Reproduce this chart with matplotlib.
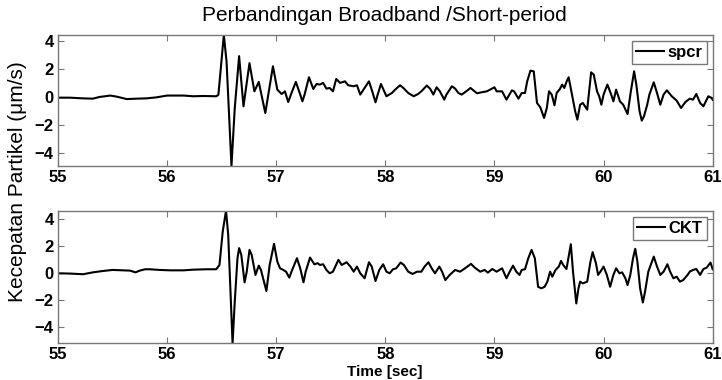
import numpy as np
import matplotlib.pyplot as plt

plt.rcParams['font.family'] = ['Liberation Sans', 'DejaVu Sans']

# rekaman sensor short-period (spcr)
t_spcr = np.array([
    55.00, 55.11, 55.23, 55.32, 55.38, 55.48, 55.54, 55.63, 55.72, 55.81,
    55.90, 56.00, 56.15, 56.24, 56.33, 56.45, 56.47, 56.52, 56.545, 56.59,
    56.62, 56.66, 56.70, 56.755, 56.80, 56.84, 56.90, 56.97, 57.01, 57.05,
    57.08, 57.11, 57.14, 57.18, 57.22, 57.24, 57.26, 57.30, 57.34, 57.37,
    57.40, 57.43, 57.46, 57.49, 57.52, 57.55, 57.585, 57.63, 57.66, 57.71,
    57.74, 57.77, 57.81, 57.85, 57.88, 57.91, 57.93, 57.96, 57.99, 58.01,
    58.06, 58.09, 58.135, 58.165, 58.21, 58.26, 58.30, 58.33, 58.38, 58.41,
    58.44, 58.47, 58.50, 58.54, 58.56, 58.61, 58.64, 58.67, 58.70, 58.75,
    58.78, 58.81, 58.84, 58.88, 58.93, 58.96, 59.00, 59.02, 59.07, 59.11,
    59.16, 59.18, 59.22, 59.25, 59.28, 59.30, 59.33, 59.36, 59.39, 59.42,
    59.455, 59.48, 59.50, 59.525, 59.55, 59.57, 59.60, 59.62, 59.64, 59.66,
    59.68, 59.71, 59.74, 59.76, 59.785, 59.81, 59.85, 59.886, 59.91, 59.94,
    59.96, 59.98, 60.00, 60.035, 60.07, 60.09, 60.115, 60.15, 60.18, 60.22,
    60.25, 60.28, 60.30, 60.33, 60.35, 60.37, 60.40, 60.42, 60.46, 60.49,
    60.52, 60.55, 60.58, 60.625, 60.67, 60.71, 60.75, 60.79, 60.82, 60.85,
    60.885, 60.915, 60.96, 60.99, 61.00])
v_spcr = np.array([
    -0.05, -0.05, -0.10, -0.12, 0.00, 0.10, 0.02, -0.15, -0.12, -0.10,
    -0.03, 0.10, 0.10, 0.05, 0.07, 0.05, 0.15, 4.40, 2.50, -4.90,
    -0.80, 2.90, -0.66, 2.40, 0.40, 1.07, -1.14, 2.18, 0.52, 0.21,
    0.40, -0.36, 0.28, 1.07, 0.17, -0.31, 0.17, 1.40, 0.57, 0.92,
    0.88, 1.00, 0.59, 0.64, 0.40, 1.28, 1.00, 1.11, 0.83, 0.76,
    0.83, 0.17, 0.64, 1.11, 0.40, -0.38, 0.17, 0.92, 0.40, 0.05,
    0.28, 0.52, 0.83, 0.64, 0.28, 0.05, 0.21, 0.40, 0.81, 0.59,
    0.17, 0.69, 0.40, -0.19, 0.17, 0.76, 0.59, 0.28, 0.17, 0.45,
    0.64, 0.45, 0.26, 0.33, 0.40, 0.52, 0.69, 0.40, 0.40, -0.19,
    0.47, 0.40, -0.12, 0.28, 0.28, 1.11, 1.87, 1.82, -0.43, -0.73,
    -1.49, -0.78, 0.40, 0.17, -0.59, 0.28, 0.57, 0.88, 0.64, 1.07,
    1.40, 0.17, -1.02, -1.61, -0.55, -0.43, -0.90, 1.75, 1.59, 0.40,
    0.05, -0.55, 0.17, 0.88, 0.17, -0.31, 0.52, -0.31, -0.55, -1.21,
    0.40, 1.82, 0.88, -1.02, -1.68, -1.38, -0.55, 0.17, 1.04, 0.28,
    -0.55, 0.17, 0.47, 0.05, -0.26, -0.78, -0.36, -0.12, -0.19, 0.21,
    -0.43, -0.66, 0.05, -0.07, -0.20])

# rekaman sensor broadband (CKT)
t_ckt = np.array([
    55.00, 55.11, 55.23, 55.32, 55.41, 55.50, 55.60, 55.66, 55.71, 55.75,
    55.80, 55.84, 55.93, 56.03, 56.15, 56.24, 56.36, 56.45, 56.48, 56.51,
    56.54, 56.56, 56.60, 56.62, 56.645, 56.66, 56.68, 56.71, 56.73, 56.755,
    56.775, 56.81, 56.84, 56.86, 56.91, 56.94, 56.98, 57.01, 57.035, 57.065,
    57.09, 57.12, 57.14, 57.19, 57.22, 57.25, 57.27, 57.31, 57.35, 57.38,
    57.40, 57.43, 57.46, 57.49, 57.52, 57.57, 57.60, 57.645, 57.68, 57.71,
    57.74, 57.77, 57.81, 57.85, 57.875, 57.91, 57.945, 57.98, 58.01, 58.04,
    58.07, 58.10, 58.14, 58.17, 58.21, 58.25, 58.29, 58.33, 58.36, 58.395,
    58.425, 58.455, 58.495, 58.52, 58.55, 58.59, 58.64, 58.685, 58.73, 58.785,
    58.82, 58.87, 58.91, 58.94, 58.98, 59.02, 59.07, 59.11, 59.14, 59.17,
    59.20, 59.23, 59.25, 59.28, 59.31, 59.34, 59.37, 59.40, 59.43, 59.46,
    59.485, 59.51, 59.53, 59.56, 59.59, 59.61, 59.63, 59.66, 59.68, 59.70,
    59.72, 59.75, 59.77, 59.785, 59.81, 59.85, 59.88, 59.90, 59.93, 59.95,
    59.975, 60.00, 60.03, 60.06, 60.09, 60.115, 60.145, 60.17, 60.20, 60.22,
    60.245, 60.27, 60.29, 60.31, 60.335, 60.36, 60.38, 60.41, 60.46, 60.49,
    60.52, 60.55, 60.585, 60.61, 60.64, 60.67, 60.70, 60.73, 60.77, 60.79,
    60.82, 60.85, 60.885, 60.915, 60.945, 60.98, 61.00])
v_ckt = np.array([
    0.00, -0.02, -0.07, 0.07, 0.17, 0.25, 0.22, 0.20, 0.07, 0.20,
    0.30, 0.30, 0.25, 0.22, 0.22, 0.27, 0.30, 0.30, 0.62, 3.11,
    4.65, 2.86, -5.20, -2.11, 1.12, 1.87, 1.37, -0.67, 0.12, 1.74,
    1.37, -0.12, 0.57, 0.25, -1.32, 0.62, 2.19, 0.87, 0.37, 0.25,
    0.12, -0.32, 0.12, 1.12, 0.37, -0.67, 0.12, 1.17, 0.67, 0.75,
    0.62, 0.67, 0.25, 0.00, 0.12, 1.00, 0.62, 0.82, 0.50, 0.12,
    0.50, 0.00, -0.37, 0.82, 0.50, -0.57, 0.25, 0.67, 0.12, 0.00,
    0.30, 0.37, 0.80, 0.62, 0.12, -0.05, 0.12, 0.12, 0.50, 0.82,
    0.37, 0.00, 0.50, 0.12, -0.50, -0.12, 0.25, 0.12, 0.37, 0.70,
    0.42, 0.12, 0.25, 0.05, 0.32, 0.12, 0.37, -0.37, 0.12, 0.57,
    0.12, -0.12, 0.25, 0.30, 1.12, 1.74, 1.12, -1.00, -1.12, -1.00,
    -0.62, 0.12, -0.25, 0.25, 0.50, 0.92, 0.62, 0.32, 1.24, 2.16,
    0.12, -2.24, -1.12, -0.62, -0.75, -0.62, 0.87, 1.57, 0.75, -0.12,
    0.17, 0.50, -0.12, -1.00, -0.12, 0.37, 0.00, 0.07, -0.37, -0.87,
    -0.12, 1.12, 1.82, 0.87, -1.12, -2.17, -1.37, 0.12, 1.24, 0.50,
    -0.12, 0.12, 0.67, 0.12, -0.37, -0.25, -0.62, -0.50, -0.12, 0.12,
    0.25, 0.32, -0.12, 0.32, 0.42, 0.80, 0.30])

xticks = [55, 56, 57, 58, 59, 60, 61]
yticks = [-4, -2, 0, 2, 4]

fig = plt.figure(figsize=(7.22, 3.8), dpi=100)
ax1 = fig.add_axes([0.0803, 0.5632, 0.9068, 0.3447])
ax2 = fig.add_axes([0.0803, 0.0966, 0.9068, 0.3489])

panels = [(ax1, t_spcr, v_spcr, 'spcr'), (ax2, t_ckt, v_ckt, 'CKT')]
for ax, t, v, nama in panels:
    ax.plot(t, v, color='black', lw=1.5, label=nama)
    ax.set_xlim(55, 61)
    ax.set_ylim(v.min(), v.max())
    ax.set_xticks(xticks)
    ax.set_yticks(yticks)
    ax.tick_params(direction='in', top=True, right=True, length=4,
                   width=0.8, color='#777777', labelsize=12)
    ax.tick_params(axis='x', pad=3)
    ax.tick_params(axis='y', pad=3)
    for lbl in ax.get_xticklabels() + ax.get_yticklabels():
        lbl.set_fontweight('bold')
    for sp in ax.spines.values():
        sp.set_color('#777777')
        sp.set_linewidth(1.0)
    leg = ax.legend(loc='upper right', handlelength=1.7, handletextpad=0.2,
                    borderpad=0.25, fancybox=False, framealpha=1,
                    prop={'weight': 'bold', 'size': 12},
                    borderaxespad=0.35)
    leg.get_frame().set_edgecolor('#777777')
    leg.get_frame().set_linewidth(1.0)

fig.text(0.533, 0.96, 'Perbandingan Broadband /Short-period',
         ha='center', va='center', fontsize=15)
fig.text(0.024, 0.523, 'Kecepatan Partikel (\u03bcm/s)', rotation=90,
         ha='center', va='center', fontsize=15)
fig.text(0.533, 0.021, 'Time [sec]', ha='center', va='center',
         fontsize=11, fontweight='bold')

fig.savefig('out.png', dpi=100)
